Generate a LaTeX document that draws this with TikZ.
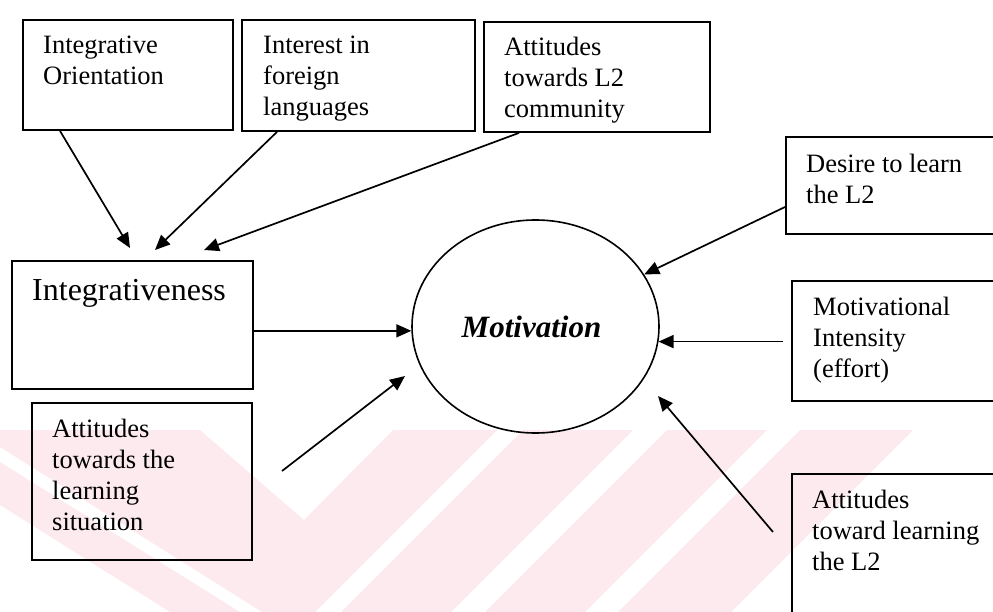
\documentclass[tikz,border=0pt]{standalone}
\usepackage{fontspec}
\setmainfont{Liberation Serif}
\usetikzlibrary{arrows.meta,shapes.geometric,calc}
\definecolor{wm}{RGB}{253,234,238}
\begin{document}
\begin{tikzpicture}[x=1pt,y=-1pt,
  box/.style={draw, line width=1.9pt, rectangle, inner sep=0pt, anchor=north west},
  txt/.style={anchor=north west, inner sep=0pt, align=left, font=\fontsize{26.5}{31}\selectfont},
  arr/.style={line width=1.7pt, -{Triangle[length=15pt,width=13pt]}},
  wmark/.style={fill=wm, draw=none}]
\useasboundingbox (0,0) rectangle (993,612);
\clip (0,0) rectangle (993,612);
% watermark
\fill[wmark] (0,430) -- (200,430) -- (304,520) -- (393,430) -- (497,430) -- (315,612) -- (262,612) -- (0,447) -- cycle;
\fill[wmark] (0,462) -- (240,612) -- (170,612) -- (0,505) -- cycle;
\fill[wmark] (523,430) -- (633,430) -- (451,612) -- (341,612) -- cycle;
\fill[wmark] (667,430) -- (767,430) -- (585,612) -- (485,612) -- cycle;
\fill[wmark] (800,430) -- (913,430) -- (731,612) -- (618,612) -- cycle;
% boxes
\node[box, minimum width=210, minimum height=110] (io) at (22,19) {};
\node[box, minimum width=233, minimum height=111] (ifl) at (241,19) {};
\node[box, minimum width=226, minimum height=110] (al2) at (483,21) {};
\node[box, minimum width=230, minimum height=97] (des) at (785,136) {};
\node[box, minimum width=230, minimum height=120] (mi) at (791,280) {};
\node[box, minimum width=230, minimum height=160] (atl) at (791,473) {};
\node[box, minimum width=241, minimum height=128] (int) at (11,260) {};
\node[box, minimum width=220, minimum height=157] (als) at (31,402) {};
% texts
\node[txt] (iot) at ($(io.north west)+(21,12)$) {\rule{0pt}{22pt}Integrative\\Orientation};
\node[txt] (iflt) at ($(ifl.north west)+(22,12)$) {\rule{0pt}{22pt}Interest in\\foreign\\languages};
\node[txt] (al2t) at ($(al2.north west)+(21,12)$) {\rule{0pt}{22pt}Attitudes\\towards L2\\community};
\node[txt] (dest) at ($(des.north west)+(21,14)$) {\rule{0pt}{22pt}Desire to learn\\the L2};
\node[txt] (mit) at ($(mi.north west)+(22,13)$) {\rule{0pt}{22pt}Motivational\\Intensity\\(effort)};
\node[txt] (atlt) at ($(atl.north west)+(21,13)$) {\rule{0pt}{22pt}Attitudes\\toward learning\\the L2};
\node[txt] (alst) at ($(als.north west)+(21,13)$) {\rule{0pt}{22pt}Attitudes\\towards the\\learning\\situation};
\node[txt, font=\fontsize{32}{37}\selectfont] (intt) at ($(int.north west)+(21,14)$) {\rule{0pt}{26pt}Integrativeness};
% ellipse
\node[draw, ellipse, line width=1.6pt, minimum width=247, minimum height=213, inner sep=0pt,
  font=\fontsize{31}{36}\selectfont\bfseries\itshape] (mot) at (535.5,326.5) {\hspace*{-8pt}Motivation};
% connectors
\coordinate (e1) at (130,248);
\coordinate (e2) at (155,250);
\coordinate (e3) at (204,250);
\coordinate (s4) at (282,471);
\coordinate (e4) at (405,376);
\coordinate (s5) at (773,532);
\coordinate (e5) at (658,396);
\draw[arr] ($(io.south west)+(38,0)$) -- (e1);
\draw[arr] ($(ifl.south west)+(36,0)$) -- (e2);
\draw[arr] ($(al2.south west)+(36,0)$) -- (e3);
\draw[arr] ($(des.north west)+(0,71)$) -- (mot);
\draw[arr] (int.east |- mot.182) -- (mot.182);
\draw[arr] ($(mot.-7 -| mi.west)+(-8,0)$) -- (mot.-7);
\draw[arr] (s4) -- (e4);
\draw[arr] (s5) -- (e5);
\end{tikzpicture}
\end{document}
